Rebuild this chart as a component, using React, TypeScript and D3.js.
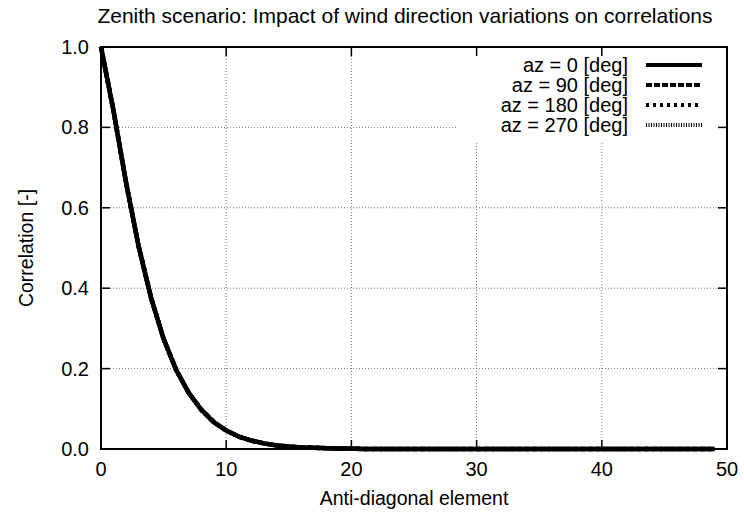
import React from 'react';
import * as d3 from 'd3';

// Correlation vs anti-diagonal element, one array per wind azimuth
const corrAz0 = [1.0, 0.841, 0.663, 0.505, 0.376, 0.274, 0.197, 0.14, 0.098, 0.067, 0.046, 0.031, 0.021, 0.014, 0.009, 0.006, 0.004, 0.003, 0.002, 0.001, 0.001, 0, 0, 0, 0, 0, 0, 0, 0, 0, 0, 0, 0, 0, 0, 0, 0, 0, 0, 0, 0, 0, 0, 0, 0, 0, 0, 0, 0, 0];
const corrAz90 = [1.0, 0.841, 0.663, 0.505, 0.376, 0.274, 0.197, 0.14, 0.098, 0.067, 0.046, 0.031, 0.021, 0.014, 0.009, 0.006, 0.004, 0.003, 0.002, 0.001, 0.001, 0, 0, 0, 0, 0, 0, 0, 0, 0, 0, 0, 0, 0, 0, 0, 0, 0, 0, 0, 0, 0, 0, 0, 0, 0, 0, 0, 0, 0];
const corrAz180 = [1.0, 0.841, 0.663, 0.505, 0.376, 0.274, 0.197, 0.14, 0.098, 0.067, 0.046, 0.031, 0.021, 0.014, 0.009, 0.006, 0.004, 0.003, 0.002, 0.001, 0.001, 0, 0, 0, 0, 0, 0, 0, 0, 0, 0, 0, 0, 0, 0, 0, 0, 0, 0, 0, 0, 0, 0, 0, 0, 0, 0, 0, 0, 0];
const corrAz270 = [1.0, 0.841, 0.663, 0.505, 0.376, 0.274, 0.197, 0.14, 0.098, 0.067, 0.046, 0.031, 0.021, 0.014, 0.009, 0.006, 0.004, 0.003, 0.002, 0.001, 0.001, 0, 0, 0, 0, 0, 0, 0, 0, 0, 0, 0, 0, 0, 0, 0, 0, 0, 0, 0, 0, 0, 0, 0, 0, 0, 0, 0, 0, 0];

const seriesLabels = ['az = 0 [deg]', 'az = 90 [deg]', 'az = 180 [deg]', 'az = 270 [deg]'];
const seriesValues = [corrAz0, corrAz90, corrAz180, corrAz270];

const xTicks = [0, 10, 20, 30, 40, 50];
const yTicks = [0, 0.2, 0.4, 0.6, 0.8, 1.0];
const yTickLabels = ['0.0', '0.2', '0.4', '0.6', '0.8', '1.0'];

const title = 'Zenith scenario: Impact of wind direction variations on correlations';
const xLabel = 'Anti-diagonal element';
const yLabel = 'Correlation [-]';

const dashes = ['none', '6,2', '3,4', '1,1.5'];

export default function App() {
  const W = 744, H = 516;
  const left = 101, right = 727, top = 47, bottom = 449;
  const x = d3.scaleLinear().domain([0, 50]).range([left, right]);
  const y = d3.scaleLinear().domain([0, 1]).range([bottom, top]);
  const line = d3.line<number>().x((_, i) => x(i)).y((d) => y(d));
  const font = "'Liberation Sans', Arial, sans-serif";
  const fs = 20;
  const tick = 9;

  const legendRight = 628;
  const legendRows = [65, 85, 105, 125];

  return (
    <svg width={W} height={H} style={{ position: 'absolute', left: 0, top: 0, background: '#fff' }} fontFamily={font}>
      <rect x={0} y={0} width={W} height={H} fill="#fff" />
      {/* grid */}
      {xTicks.slice(1, -1).map((t) => (
        <line key={'gx' + t} x1={x(t)} x2={x(t)} y1={top} y2={bottom} stroke="#777" strokeWidth={1} strokeDasharray="1,2" />
      ))}
      {yTicks.slice(1, -1).map((t) => (
        <line key={'gy' + t} x1={left} x2={right} y1={y(t)} y2={y(t)} stroke="#777" strokeWidth={1} strokeDasharray="1,2" />
      ))}
      {/* key box blanks grid */}
      <rect x={458} y={55} width={right - 458 - 1} height={86} fill="#fff" />
      {/* ticks */}
      {xTicks.map((t) => (
        <g key={'tx' + t}>
          <line x1={x(t)} x2={x(t)} y1={bottom} y2={bottom - tick} stroke="#000" strokeWidth={1.5} />
          <line x1={x(t)} x2={x(t)} y1={top} y2={top + tick} stroke="#000" strokeWidth={1.5} />
          <text x={x(t)} y={476} textAnchor="middle" fontSize={fs}>{t}</text>
        </g>
      ))}
      {yTicks.map((t, i) => (
        <g key={'ty' + t}>
          <line x1={left} x2={left + tick} y1={y(t)} y2={y(t)} stroke="#000" strokeWidth={1.5} />
          <line x1={right} x2={right - tick} y1={y(t)} y2={y(t)} stroke="#000" strokeWidth={1.5} />
          <text x={89} y={y(t) + 7} textAnchor="end" fontSize={fs}>{yTickLabels[i]}</text>
        </g>
      ))}
      {/* series */}
      {seriesValues.map((vals, i) => (
        <path key={'s' + i} d={line(vals) || ''} fill="none" stroke="#000" strokeWidth={4.5}
          strokeDasharray={dashes[i]} strokeLinejoin="round" />
      ))}
      {/* frame */}
      <rect x={left} y={top} width={right - left} height={bottom - top} fill="none" stroke="#000" strokeWidth={2} />
      {/* legend */}
      {seriesLabels.map((lab, i) => (
        <g key={'l' + i}>
          <text x={legendRight} y={legendRows[i] + 7} textAnchor="end" fontSize={fs}>{lab}</text>
          <line x1={646} x2={702} y1={legendRows[i]} y2={legendRows[i]} stroke="#000" strokeWidth={4} strokeDasharray={dashes[i]} />
        </g>
      ))}
      {/* titles */}
      <text x={405} y={23} textAnchor="middle" fontSize={21}>{title}</text>
      <text x={(left + right) / 2} y={505} textAnchor="middle" fontSize={19.5}>{xLabel}</text>
      <text transform={`translate(33, ${(top + bottom) / 2}) rotate(-90)`} textAnchor="middle" fontSize={19.5}>{yLabel}</text>
    </svg>
  );
}
